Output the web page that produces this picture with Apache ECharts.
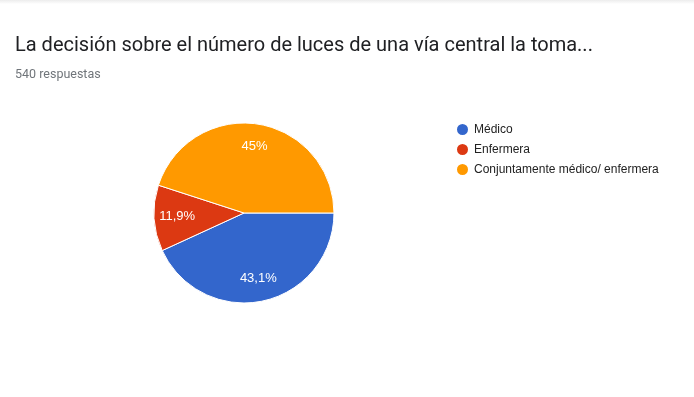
<!DOCTYPE html>
<html>
<head>
<meta charset="utf-8">
<script src="https://cdn.jsdelivr.net/npm/echarts@6/dist/echarts.min.js"></script>
<style>
  html, body { margin: 0; padding: 0; background: #fff; }
  #chart { width: 694px; height: 397px; }
  .topShade { position: absolute; left: 0; top: 0; width: 694px; height: 4px;
    background: linear-gradient(#ececec, rgba(255,255,255,0)); z-index: 2; }
</style>
</head>
<body>
<div class="topShade"></div>
<div id="chart"></div>
<script>
  // respuestas por opción (total 540)
  const categories = ["Médico", "Enfermera", "Conjuntamente médico/ enfermera"];
  const counts = [233, 64, 243];
  const colors = ["#3366cc", "#dc3912", "#ff9900"];
  const titleText = "La decisión sobre el número de luces de una vía central la toma...";
  const subText = "540 respuestas";

  const total = counts.reduce((a, b) => a + b, 0);
  const pieData = categories.map((name, i) => ({
    name: name,
    value: counts[i],
    itemStyle: { color: colors[i] }
  }));

  function pctLabel(p) {
    let v = Math.round(p.value / total * 1000) / 10;
    return String(v).replace(".", ",") + "%";
  }

  let chart = echarts.init(document.getElementById("chart"));
  let option = {
    animation: false,
    title: [{
      text: titleText,
      left: 10,
      top: 31,
      textStyle: { fontFamily: "Roboto", fontSize: 20, fontWeight: "normal", color: "#202124" }
    }, {
      text: subText,
      left: 10,
      top: 63,
      textStyle: { fontFamily: "Roboto", fontSize: 12.5, fontWeight: "normal", color: "#70757a" }
    }],
    legend: {
      orient: "vertical",
      left: 450,
      top: 117,
      itemGap: 5,
      itemWidth: 13,
      itemHeight: 13,
      icon: "circle",
      selectedMode: false,
      data: categories,
      textStyle: { fontFamily: "Arial, Liberation Sans", fontSize: 12, color: "#222" }
    },
    series: [{
      // sectores
      type: "pie",
      center: [244, 213],
      radius: [0, 90],
      startAngle: 0,
      clockwise: true,
      avoidLabelOverlap: false,
      itemStyle: { borderColor: "#fff", borderWidth: 1 },
      label: { show: false },
      labelLine: { show: false },
      emphasis: { disabled: true },
      data: pieData
    }, {
      // anillo transparente sólo para colocar las etiquetas
      type: "pie",
      center: [244, 213],
      radius: [38, 90],
      startAngle: 0,
      clockwise: true,
      silent: true,
      avoidLabelOverlap: false,
      itemStyle: { color: "transparent", borderWidth: 0 },
      label: {
        show: true,
        position: "inside",
        formatter: pctLabel,
        color: "#fff",
        fontFamily: "Arial, Liberation Sans",
        fontSize: 13
      },
      labelLine: { show: false },
      emphasis: { disabled: true },
      data: categories.map((name, i) => ({ name: name, value: counts[i] }))
    }]
  };
  chart.setOption(option);
</script>
</body>
</html>
